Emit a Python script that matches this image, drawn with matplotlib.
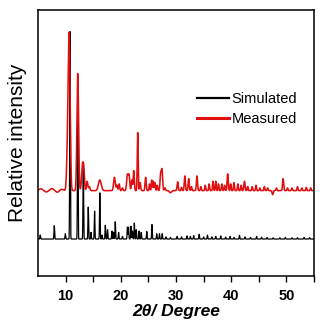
import numpy as np
import matplotlib
matplotlib.use("Agg")
import matplotlib.pyplot as plt

plt.rcParams['font.family'] = ['Liberation Sans', 'DejaVu Sans']

# Simulated pattern: peak positions (2theta), heights above baseline
sim_pos = [5.4, 7.95, 9.95, 10.8, 12.2, 13.2, 14.1, 14.6, 15.25, 16.2, 16.6, 17.2, 17.6,
           18.4, 18.7, 19.0, 19.6, 20.3, 21.2, 21.4, 21.85, 22.1, 22.45, 22.8, 23.3, 23.7,
           24.7, 25.65, 26.5, 27.0, 27.5, 28.2, 29.0, 30.2, 31.0, 32.0, 32.6, 33.2, 34.2,
           35.0, 35.7, 36.5, 37.2, 38.1, 39.0, 39.8, 40.5, 41.5, 42.5, 43.5, 44.6, 45.5,
           46.5, 47.6, 48.8, 49.8, 51.0, 52.0, 53.2, 54.2]
sim_int = [1.5, 5.0, 2.0, 78.0, 50.0, 27.0, 12.0, 2.5, 10.5, 17.4, 1.5, 5.2, 3.5,
           3.0, 2.5, 6.5, 2.5, 1.0, 4.5, 4.5, 4.8, 3.0, 6.0, 3.5, 3.0, 2.5,
           2.8, 5.5, 2.0, 2.0, 2.0, 0.8, 0.6, 1.0, 0.8, 1.2, 1.0, 1.3, 1.8,
           0.8, 1.5, 0.8, 1.0, 1.2, 0.7, 1.0, 0.6, 1.4, 0.8, 0.6, 1.0, 0.7,
           0.6, 0.5, 0.5, 0.6, 0.5, 0.5, 0.6, 0.5]
sim_base = 13.9

# Measured pattern: peak positions, heights above baseline, widths
meas_pos = [5.5, 6.5, 7.5, 8.5, 9.3, 10.35, 10.65, 12.2, 13.05, 13.3, 13.9, 14.3, 16.2,
            18.85, 19.3, 19.7, 20.3, 21.2, 21.5, 22.0, 22.35, 23.06, 23.5, 24.5, 25.2,
            25.6, 25.9, 26.2, 26.6, 27.2, 27.45, 28.0, 29.0, 30.3, 31.0, 31.6, 32.3, 32.8,
            33.8, 34.5, 35.3, 36.0, 36.7, 37.2, 37.7, 38.3, 38.8, 39.36, 39.9, 40.5,
            41.2, 41.8, 42.4, 43.0, 43.8, 44.5, 45.2, 46.0, 46.6, 47.5, 48.2, 49.4,
            50.2, 51.0, 52.0, 52.8, 53.6, 54.4]
meas_int = [0.7, -0.5, 0.8, -0.6, 0.5, 14.0, 57.0, 44.0, 9.5, 7.0, 3.5, 1.5, 4.0,
            5.0, 2.0, 2.5, 1.0, 6.0, 5.5, 4.0, 7.5, 21.8, 3.0, 5.0, 2.5,
            4.0, 3.5, 3.0, 2.0, 6.0, 8.0, 1.0, -0.8, 3.3, 1.2, 5.5, 4.5, 1.5,
            5.5, 1.5, 2.0, 2.5, 3.5, 3.5, 2.5, 2.5, 2.0, 6.3, 2.5, 3.0,
            2.5, 2.0, 3.5, 1.5, 1.5, 2.0, 1.0, 1.5, 1.0, -1.5, 1.0, 4.5,
            1.0, 1.0, 1.5, 1.0, 1.2, 1.0]
meas_wid = [0.3, 0.3, 0.3, 0.3, 0.3, 0.16, 0.17, 0.15, 0.15, 0.12, 0.12, 0.12, 0.25,
            0.15, 0.1, 0.1, 0.1, 0.14, 0.12, 0.1, 0.1, 0.08, 0.1, 0.1, 0.08,
            0.08, 0.08, 0.08, 0.08, 0.1, 0.12, 0.1, 0.2, 0.1, 0.08, 0.1, 0.1, 0.08,
            0.1, 0.08, 0.08, 0.08, 0.08, 0.08, 0.08, 0.08, 0.08, 0.1, 0.08, 0.08,
            0.08, 0.08, 0.1, 0.08, 0.08, 0.08, 0.08, 0.08, 0.08, 0.1, 0.08, 0.1,
            0.08, 0.08, 0.08, 0.08, 0.08, 0.08]
meas_base = 32.1

x = np.linspace(5, 55, 3000)

def profile(pos, inten, wid, base):
    y = np.full_like(x, base)
    for p, h, w in zip(pos, inten, wid):
        y += h * np.exp(-0.5 * ((x - p) / w) ** 2)
    return y

y_sim = profile(sim_pos, sim_int, [0.055] * len(sim_pos), sim_base)
y_meas = profile(meas_pos, meas_int, meas_wid, meas_base)

fig = plt.figure(figsize=(3.24, 3.28), dpi=100)
ax = fig.add_axes([38/324, 1-276/328, 276/324, 266/328])
ax.plot(x, y_sim, color='black', lw=0.9, label='Simulated')
ax.plot(x, y_meas, color='#e01010', lw=1.15, label='Measured')

ax.set_xlim(5, 55)
ax.set_ylim(0, 100)
ax.set_yticks([])
ax.set_xticks([10, 20, 30, 40, 50])
ax.set_xticks([15, 25, 35, 45, 55], minor=True)
ax.tick_params(axis='x', which='both', direction='out', length=4, width=1.0,
               labelsize=10.5, pad=5)
for lbl in ax.get_xticklabels():
    lbl.set_fontweight('bold')
for s in ax.spines.values():
    s.set_linewidth(1.1)

ax.set_xlabel('2θ/ Degree', fontsize=12.5, fontstyle='italic', fontweight='bold',
              labelpad=1)
ax.set_ylabel('Relative intensity', fontsize=15, labelpad=8)

leg = ax.legend(loc='upper left', bbox_to_anchor=(0.55, 0.72), frameon=False,
                fontsize=10.5, handlelength=2.2, handletextpad=0.15, labelspacing=0.4,
                borderpad=0)
for line in leg.get_lines():
    line.set_linewidth(1.6)
leg.get_lines()[1].set_linewidth(2.2)

fig.savefig('out.png', dpi=100)
